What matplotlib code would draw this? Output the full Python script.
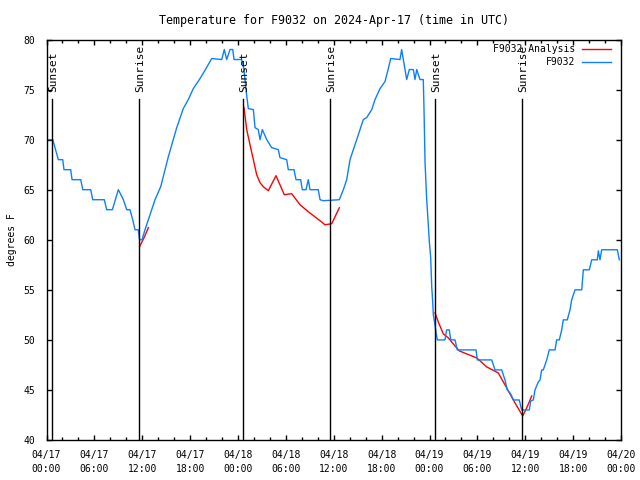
"""Temperature chart for station F9032, gnuplot-like look."""

from datetime import datetime, timedelta

import matplotlib

matplotlib.use("Agg")
import matplotlib.pyplot as plt
from matplotlib.ticker import MultipleLocator

START = datetime(2024, 4, 17)

# observed temperature, hours since 04/17 00:00 UTC
obs_hours = [
    0.03, 0.78, 1.13, 1.48, 2.03, 2.19, 3.03, 3.2, 4.29, 4.54, 5.54, 5.79,
    7.24, 7.54, 8.25, 9.0, 9.63, 10.05, 10.46, 10.8, 11.09, 11.5, 11.66,
    11.97, 12.34, 12.76, 13.18, 13.6, 14.31, 14.85, 15.27, 15.89, 16.32,
    17.14, 17.77, 18.4, 19.24, 19.99, 20.7, 21.96, 22.28, 22.58, 23.0,
    23.34, 23.5, 24.46, 24.75, 25.0, 25.29, 25.92, 26.13, 26.54, 26.76,
    27.05, 27.6, 28.22, 29.05, 29.26, 30.1, 30.3, 31.02, 31.27, 31.85,
    32.06, 32.52, 32.81, 33.02, 34.06, 34.28, 34.69, 36.7, 37.2, 37.62,
    38.04, 38.45, 38.88, 39.7, 40.13, 40.76, 41.17, 41.8, 42.42, 42.84,
    43.14, 44.3, 44.51, 44.72, 45.14, 45.47, 45.97, 46.18, 46.4, 46.81,
    47.22, 47.31, 47.44, 47.65, 47.85, 47.98, 48.15, 48.28, 48.4, 48.48,
    48.69, 48.82, 48.98, 49.94, 50.15, 50.48, 50.66, 51.2, 51.48, 53.83,
    53.99, 55.8, 56.21, 57.05, 57.46, 57.75, 58.18, 58.5, 59.25, 59.55,
    60.51, 60.68, 61.01, 61.22, 61.64, 61.85, 62.06, 62.26, 62.69, 63.01,
    63.73, 63.94, 64.27, 64.57, 64.77, 65.27, 65.61, 65.82, 66.24, 67.08,
    67.28, 68.03, 68.33, 69.03, 69.16, 69.37, 69.58, 71.54, 71.79,
]
obs_temp = [
    70, 70, 69, 68, 68, 67, 67, 66, 66, 65, 65, 64,
    64, 63, 63, 65, 64, 63, 63, 62, 61, 61, 60,
    60, 61, 62, 63, 64, 65.3, 67, 68.3, 70, 71.2,
    73.1, 74, 75.1, 76.1, 77.1, 78.1, 78, 79, 78, 79,
    79, 78, 78, 77, 75, 73.1, 73, 71.2, 71, 70,
    71, 70, 69.2, 69, 68.2, 68, 67, 67, 66, 66,
    65, 65, 66, 65, 65, 64, 63.9, 64, 65, 66,
    68, 69, 70, 72, 72.2, 73, 74, 75.1, 75.8, 77.1,
    78.1, 78, 79, 78, 76, 77, 77, 76, 77, 76,
    76, 73.1, 67.7, 64, 61.5, 59.8, 58.2, 55.3, 53.8, 52.5,
    51.5, 50.7, 50, 50, 51, 51, 50, 50, 49, 49,
    48, 48, 47, 47, 46, 45, 44.6, 44, 44, 43,
    43, 43.9, 44, 45, 45.8, 46, 47, 47, 48, 49,
    49, 50, 50, 51, 52, 52, 53, 54, 55, 55,
    57, 57, 58, 58, 58.9, 58, 59, 59, 58,
]

# analysis segments (one list per night/morning)
ana_hours = [
    [11.66, 12.22, 12.76],
    [24.75, 25.09, 25.5, 25.92, 26.34, 26.76, 27.17, 27.8, 28.76, 29.8,
     30.73, 31.77, 32.81, 34.28, 34.9, 35.74, 36.7],
    [48.69, 49.1, 49.73, 50.36, 50.98, 51.74, 52.66, 53.92, 55.17, 56.62,
     57.68, 58.72, 59.68, 60.18, 60.81],
]
ana_temp = [
    [59.3, 60.2, 61.2],
    [73.2, 71.0, 69.5, 68.0, 66.5, 65.7, 65.3, 64.9, 66.4, 64.5,
     64.6, 63.5, 62.8, 61.9, 61.5, 61.6, 63.2],
    [52.7, 51.8, 50.6, 50.2, 49.6, 48.9, 48.6, 48.2, 47.3, 46.7,
     45.2, 43.7, 42.4, 43.2, 44.4],
]

sun_hours = [0.73, 11.59, 24.67, 35.53, 48.73, 59.63]
sun_labels = ["Sunset", "Sunrise", "Sunset", "Sunrise", "Sunset", "Sunrise"]

BLUE = "#0a80ff"
RED = "#ff0000"
FONT = "DejaVu Sans Mono"
FS = 7.0

plt.rcParams.update({"font.family": FONT, "font.size": FS})

fig = plt.figure(figsize=(6.4, 4.8), dpi=100)
ax = fig.add_axes([0.0727, 0.0833, 0.8976, 0.8344])

for i, (h, t) in enumerate(zip(ana_hours, ana_temp)):
    ax.plot(h, t, color=RED, lw=1.0, label="F9032 Analysis" if i == 0 else None)
ax.plot(obs_hours, obs_temp, color=BLUE, lw=1.0, label="F9032")

for h, lbl in zip(sun_hours, sun_labels):
    ax.plot([h, h], [40, 74.1], color="black", lw=1.0)
    ax.text(h + 0.15, 74.8, lbl, rotation=90, ha="center", va="bottom", fontsize=8)

ax.set_xlim(0, 72)
ax.set_ylim(40, 80)
ax.xaxis.set_minor_locator(MultipleLocator(2))
ax.yaxis.set_major_locator(MultipleLocator(5))
ticks = list(range(0, 73, 6))
ax.set_xticks(ticks)
ax.set_xticklabels([(START + timedelta(hours=h)).strftime("%m/%d\n%H:%M") for h in ticks],
                   linespacing=1.55)

ax.tick_params(which="both", direction="in", top=True, right=True, width=1.0)
ax.tick_params(which="major", length=3.3)
ax.tick_params(which="minor", length=2)
ax.tick_params(axis="x", pad=7)
ax.tick_params(axis="y", pad=8)
for s in ax.spines.values():
    s.set_linewidth(1.0)

ax.set_ylabel("degrees F", labelpad=5)
ax.set_title("Temperature for F9032 on 2024-Apr-17 (time in UTC)", pad=11)

leg = ax.legend(loc="upper right", frameon=False, markerfirst=False,
                bbox_to_anchor=(611 / 640, 1 - 44 / 480),
                bbox_transform=fig.transFigure,
                handlelength=3.0, handletextpad=0.7, borderpad=0,
                borderaxespad=0, labelspacing=0.35)
for t in leg.get_texts():
    t.set_ha("right")

fig.savefig("out.png", dpi=100)
